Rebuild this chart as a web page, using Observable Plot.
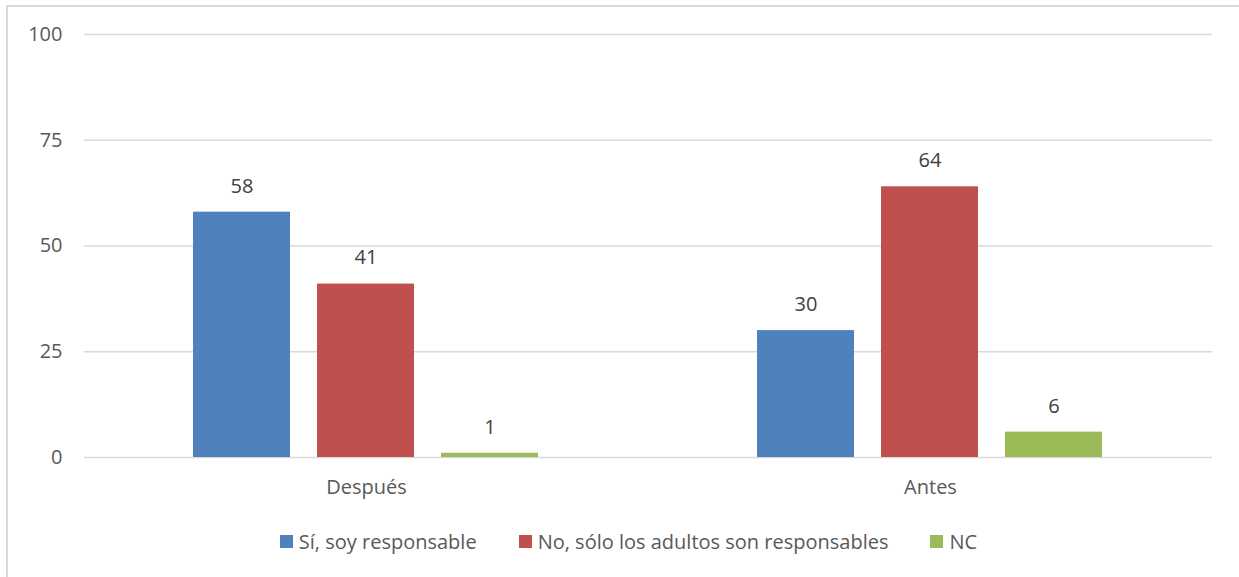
<!DOCTYPE html>
<html>
<head>
<meta charset="utf-8">
<script src="https://cdn.jsdelivr.net/npm/d3@7"></script>
<script src="https://cdn.jsdelivr.net/npm/@observablehq/plot@0.6"></script>
<style>
  html, body { margin: 0; padding: 0; background: #fff; }
  #wrap { position: relative; width: 1239px; height: 577px; overflow: hidden; font-family: "Open Sans", sans-serif; }
  #frame { position: absolute; left: 6px; top: 5px; width: 1240px; height: 580px; border-top: 2px solid #d9d9d9; border-left: 2px solid #d9d9d9; box-sizing: border-box; }
  #chart { position: absolute; left: 0; top: 0; }
  #legend { position: absolute; left: 0; top: 528px; width: 1257px; display: flex; justify-content: center; align-items: center; gap: 42px; font-size: 20px; color: #595959; }
  .item { display: flex; align-items: center; gap: 6px; white-space: nowrap; }
  .sw { width: 13px; height: 13px; display: inline-block; }
</style>
</head>
<body>
<div id="wrap">
  <div id="frame"></div>
  <div id="chart"></div>
  <div id="legend"></div>
</div>
<script>
const groups = ["Después", "Antes"];
const series = ["Sí, soy responsable", "No, sólo los adultos son responsables", "NC"];
const despuesValues = [58, 41, 1];
const antesValues = [30, 64, 6];
const colors = ["#4F81BD", "#C0504D", "#9BBB59"];
const yTicks = [0, 25, 50, 75, 100];

const rows = [];
series.forEach((s, i) => rows.push({group: groups[0], series: s, value: despuesValues[i]}));
series.forEach((s, i) => rows.push({group: groups[1], series: s, value: antesValues[i]}));

const chart = Plot.plot({
  width: 1239,
  height: 520,
  marginLeft: 83,
  marginRight: 27,
  marginTop: 34,
  marginBottom: 63,
  style: {fontFamily: "Open Sans, sans-serif", fontSize: "20px", color: "#595959", background: "transparent"},
  fx: {domain: groups, padding: 0, axis: "bottom", label: null, tickSize: 0, tickPadding: 22},
  x: {domain: series, paddingInner: 0.216, paddingOuter: 0.866, axis: null},
  y: {domain: [0, 100], ticks: yTicks, label: null, tickSize: 0, tickPadding: 22},
  color: {domain: series, range: colors},
  marks: [
    Plot.gridY(yTicks, {stroke: "#d9d9d9", strokeOpacity: 1, strokeWidth: 1.5}),
    Plot.barY(rows, {fx: "group", x: "series", y: "value", fill: "series"}),
    Plot.text(rows, {fx: "group", x: "series", y: "value", text: d => String(d.value), dy: -26, fill: "#404040", fontSize: 20})
  ]
});
document.getElementById("chart").appendChild(chart);

const legend = document.getElementById("legend");
series.forEach((s, i) => {
  const item = document.createElement("div");
  item.className = "item";
  const sw = document.createElement("span");
  sw.className = "sw";
  sw.style.background = colors[i];
  const t = document.createElement("span");
  t.textContent = s;
  item.appendChild(sw);
  item.appendChild(t);
  legend.appendChild(item);
});
</script>
</body>
</html>
